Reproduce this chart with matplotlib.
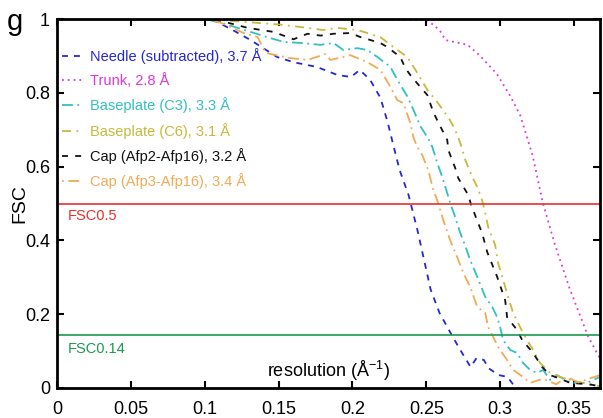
import matplotlib
matplotlib.use("Agg")
import matplotlib.pyplot as plt

plt.rcParams['font.family'] = ['Liberation Sans', 'DejaVu Sans']
plt.rcParams['mathtext.default'] = 'regular'

# ---- data (resolution in 1/A, FSC) ----
needle_x = [0, 0.10, 0.107, 0.119, 0.131, 0.149, 0.160, 0.176, 0.190, 0.199, 0.205, 0.212,
            0.219, 0.224, 0.228, 0.232, 0.238, 0.244, 0.253, 0.259, 0.268, 0.273, 0.280,
            0.284, 0.289, 0.292, 0.299, 0.305, 0.310, 0.320, 0.335, 0.350, 0.368]
needle_y = [1.0, 1.0, 0.995, 0.970, 0.943, 0.897, 0.883, 0.870, 0.848, 0.843, 0.862, 0.835,
            0.786, 0.718, 0.653, 0.590, 0.523, 0.428, 0.266, 0.203, 0.138, 0.103, 0.057,
            0.081, 0.076, 0.054, 0.035, 0.030, 0.003, -0.02, -0.01, -0.03, -0.02]

trunk_x = [0, 0.10, 0.20, 0.2507, 0.259, 0.263, 0.278, 0.2865, 0.298, 0.307, 0.3135,
           0.322, 0.329, 0.337, 0.347, 0.3595, 0.3676]
trunk_y = [1.0, 1.0, 1.0, 0.997, 0.970, 0.943, 0.930, 0.900, 0.850, 0.790, 0.740,
           0.630, 0.500, 0.390, 0.270, 0.140, 0.080]

bp_c3_x = [0, 0.10, 0.1108, 0.1223, 0.1311, 0.1446, 0.1534, 0.1649, 0.1784, 0.1872, 0.1939,
           0.2034, 0.2101, 0.2169, 0.2257, 0.2304, 0.2345, 0.2372, 0.2412, 0.2459, 0.2507,
           0.2541, 0.2574, 0.2608, 0.2642, 0.2662, 0.2696, 0.2730, 0.2764, 0.2797, 0.2845,
           0.2899, 0.2946, 0.2980, 0.3000, 0.3020, 0.3068, 0.3115, 0.3155, 0.3203, 0.3250,
           0.3291, 0.3338, 0.3385, 0.3473, 0.3588, 0.3676]
bp_c3_y = [1.0, 1.0, 0.990, 0.976, 0.965, 0.948, 0.938, 0.935, 0.930, 0.935, 0.916,
           0.921, 0.916, 0.897, 0.870, 0.835, 0.808, 0.790, 0.755, 0.710, 0.680,
           0.653, 0.610, 0.572, 0.528, 0.501, 0.463, 0.420, 0.385, 0.347, 0.301,
           0.247, 0.220, 0.192, 0.165, 0.130, 0.103, 0.095, 0.068, 0.049, 0.041,
           0.049, 0.022, 0.035, 0.014, 0.014, 0.030]

bp_c6_x = [0, 0.10, 0.1176, 0.1507, 0.1696, 0.1804, 0.1899, 0.2034, 0.2101, 0.2189, 0.2277,
           0.2372, 0.2439, 0.2507, 0.2574, 0.2628, 0.2662, 0.2696, 0.2730, 0.2764, 0.2811,
           0.2845, 0.2878, 0.2899, 0.2919, 0.2966, 0.2986, 0.3020, 0.3054, 0.3088, 0.3135,
           0.3182, 0.3223, 0.3270, 0.3338, 0.3405, 0.3493, 0.3600, 0.3676]
bp_c6_y = [1.0, 1.0, 0.995, 0.985, 0.976, 0.970, 0.976, 0.970, 0.962, 0.951, 0.924,
           0.897, 0.854, 0.808, 0.775, 0.745, 0.725, 0.699, 0.664, 0.618, 0.572,
           0.545, 0.509, 0.474, 0.436, 0.388, 0.339, 0.293, 0.247, 0.203, 0.165,
           0.130, 0.103, 0.068, 0.041, 0.030, 0.020, 0.010, 0.005]

cap2_x = [0, 0.10, 0.1108, 0.1291, 0.1466, 0.1601, 0.1696, 0.1784, 0.1872, 0.1986, 0.2054,
          0.2189, 0.2236, 0.2324, 0.2358, 0.2392, 0.2459, 0.2507, 0.2547, 0.2581, 0.2642,
          0.2649, 0.2696, 0.2716, 0.2784, 0.2804, 0.2851, 0.2878, 0.2912, 0.2980, 0.3034,
          0.3047, 0.3115, 0.3149, 0.3223, 0.3284, 0.3338, 0.3426, 0.3473, 0.3600, 0.3676]
cap2_y = [1.0, 1.0, 0.995, 0.976, 0.965, 0.945, 0.960, 0.955, 0.960, 0.962, 0.951,
          0.935, 0.924, 0.897, 0.867, 0.848, 0.816, 0.794, 0.748, 0.720, 0.672,
          0.645, 0.596, 0.569, 0.523, 0.496, 0.447, 0.420, 0.369, 0.301, 0.238,
          0.192, 0.157, 0.130, 0.095, 0.057, 0.035, 0.022, 0.014, 0.010, 0.005]

cap3_x = [0, 0.10, 0.1108, 0.1264, 0.1358, 0.1412, 0.1581, 0.1696, 0.1818, 0.1851, 0.1986,
          0.2101, 0.2189, 0.2257, 0.2304, 0.2345, 0.2392, 0.2412, 0.2439, 0.2473, 0.2514,
          0.2547, 0.2581, 0.2615, 0.2662, 0.2709, 0.2750, 0.2797, 0.2845, 0.2899, 0.2919,
          0.2953, 0.2986, 0.3047, 0.3088, 0.3155, 0.3203, 0.3290, 0.3380, 0.3450, 0.3530,
          0.3600, 0.3676]
cap3_y = [1.0, 1.0, 0.990, 0.962, 0.951, 0.908, 0.894, 0.889, 0.905, 0.889, 0.902,
          0.883, 0.862, 0.816, 0.780, 0.772, 0.718, 0.680, 0.653, 0.631, 0.590,
          0.537, 0.501, 0.455, 0.400, 0.355, 0.312, 0.274, 0.220, 0.203, 0.165,
          0.138, 0.111, 0.076, 0.049, 0.030, 0.014, 0.025, 0.010, 0.030, 0.015,
          0.025, 0.035]

labels = ["Needle (subtracted), 3.7 Å", "Trunk, 2.8 Å", "Baseplate (C3), 3.3 Å",
          "Baseplate (C6), 3.1 Å", "Cap (Afp2-Afp16), 3.2 Å", "Cap (Afp3-Afp16), 3.4 Å"]
xticks = [0, 0.05, 0.1, 0.15, 0.2, 0.25, 0.3, 0.35]
xtick_labels = ["0", "0.05", "0.1", "0.15", "0.2", "0.25", "0.3", "0.35"]
yticks = [0, 0.2, 0.4, 0.6, 0.8, 1]
ytick_labels = ["0", "0.2", "0.4", "0.6", "0.8", "1"]

fig = plt.figure(figsize=(6.03, 4.18), dpi=100)
ax = fig.add_axes([57/603, 30/418, 543/603, 369/418])

lw = 1.3
ax.plot(needle_x, needle_y, color="#2626d8", lw=lw, ls=(0, (3.3, 3.3)), label=labels[0])
ax.plot(trunk_x, trunk_y, color="#e034e0", lw=lw, ls=(0, (1, 2.2)), label=labels[1])
ax.plot(bp_c3_x, bp_c3_y, color="#33c0c0", lw=lw, ls=(0, (6, 2.5, 1, 2.5)), label=labels[2])
ax.plot(bp_c6_x, bp_c6_y, color="#c9b83a", lw=lw, ls=(0, (5, 3, 1, 3)), label=labels[3])
ax.plot(cap2_x, cap2_y, color="#111111", lw=lw, ls=(0, (3.3, 4)), label=labels[4])
ax.plot(cap3_x, cap3_y, color="#f2aa55", lw=lw, ls=(0, (1, 2.5, 6, 2.5)), label=labels[5])

ax.axhline(0.5, color="#e8302c", lw=1.2)
ax.axhline(0.143, color="#1a9a50", lw=1.2)
ax.text(0.0075, 0.466, "FSC0.5", color="#e8302c", fontsize=10.5, va="center")
ax.text(0.0075, 0.106, "FSC0.14", color="#1a9a50", fontsize=10.5, va="center")

ax.set_xlim(0, 0.3676)
ax.set_ylim(0, 1)
ax.set_xticks(xticks, xtick_labels)
ax.set_yticks(yticks, ytick_labels)
ax.tick_params(direction="in", top=True, right=True, length=5, width=1.5,
               labelsize=13, pad=5)
ax.tick_params(axis="x", pad=9)
for s in ax.spines.values():
    s.set_linewidth(2)

ax.text(0.5, 0.045, "resolution (Å$^{-1}$)", transform=ax.transAxes,
        fontsize=13, ha="center", va="center")
ax.set_ylabel("FSC", fontsize=14)
ax.yaxis.set_label_coords(-29/543, 0.5)
fig.text(15/603, 1 - 22/418, "g", fontsize=21, ha="center", va="center")

leg = ax.legend(loc="upper left", bbox_to_anchor=(0.003, 0.93), frameon=False,
                fontsize=10.5, labelcolor="linecolor", handlelength=1.4,
                handletextpad=0.55, labelspacing=0.64, borderaxespad=0, borderpad=0.2)

fig.savefig("out.png", dpi=100)
